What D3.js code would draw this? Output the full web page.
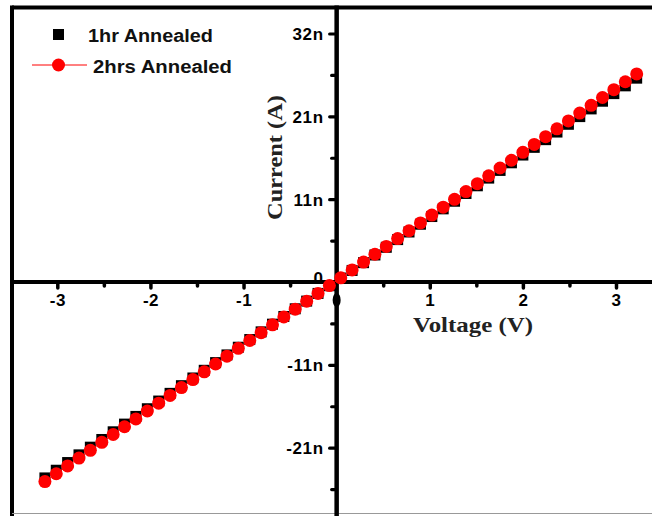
<!DOCTYPE html>
<html><head><meta charset="utf-8">
<script src="https://cdn.jsdelivr.net/npm/d3@7"></script>
<style>body{margin:0;background:#fff;overflow:hidden}</style>
</head><body>
<svg id="chart" width="652" height="516"></svg>
<script>
const voltage = [-3.133,-3.011,-2.889,-2.767,-2.645,-2.522,-2.400,-2.278,-2.156,-2.033,-1.911,-1.789,-1.667,-1.544,-1.422,-1.300,-1.178,-1.056,-0.933,-0.811,-0.689,-0.567,-0.445,-0.322,-0.200,-0.078,0.044,0.166,0.289,0.411,0.533,0.655,0.777,0.900,1.022,1.144,1.266,1.389,1.511,1.633,1.755,1.877,2.000,2.122,2.244,2.366,2.489,2.611,2.733,2.855,2.977,3.100,3.222];
const current1hr = [-25.23,-24.24,-23.25,-22.26,-21.27,-20.28,-19.29,-18.30,-17.31,-16.32,-15.33,-14.34,-13.35,-12.36,-11.37,-10.38,-9.39,-8.40,-7.41,-6.42,-5.43,-4.44,-3.45,-2.46,-1.47,-0.48,0.51,1.49,2.49,3.48,4.47,5.46,6.44,7.44,8.43,9.42,10.40,11.40,12.39,13.38,14.37,15.35,16.35,17.34,18.33,19.31,20.31,21.30,22.29,23.28,24.26,25.26,26.25];
const current2hrs = [-25.70,-24.69,-23.68,-22.68,-21.67,-20.65,-19.64,-18.64,-17.63,-16.61,-15.60,-14.60,-13.59,-12.57,-11.57,-10.56,-9.55,-8.54,-7.53,-6.52,-5.51,-4.50,-3.50,-2.48,-1.47,-0.46,0.54,1.55,2.57,3.57,4.58,5.59,6.60,7.61,8.62,9.63,10.64,11.65,12.66,13.67,14.68,15.68,16.70,17.71,18.72,19.72,20.74,21.75,22.75,23.76,24.77,25.79,26.79];
const seriesNames = ["1hr Annealed", "2hrs Annealed"];
const xTickValues = [-3, -2, -1, 1, 2, 3];
const xTickLabels = ["-3", "-2", "-1", "1", "2", "3"];
const xMinorTicks = [-2.5, -1.5, -0.5, 0.5, 1.5, 2.5];
const yTickValues = [-21.33, -10.67, 0, 10.67, 21.33, 32];
const yTickLabels = ["-21n", "-11n", "0", "11n", "21n", "32n"];
const yMinorTicks = [-26.67, -16, -5.33, 5.33, 16, 26.67];
const xTitle = "Voltage (V)";
const yTitle = "Current (A)";

const svg = d3.select("#chart");
const x = d3.scaleLinear().domain([-3, 3]).range([57.3, 616]);
const y = d3.scaleLinear().domain([0, 32]).range([282, 33.5]);
const x0 = x(0), y0 = y(0);
const sans = "'Liberation Sans', Arial, sans-serif";
const serif = "'Liberation Serif', 'Times New Roman', serif";

svg.append("rect").attr("width", 652).attr("height", 516).attr("fill", "#fff");

// Y axis ticks and labels
const yAxis = d3.axisLeft(y).tickValues(yTickValues).tickSize(6).tickPadding(5)
  .tickFormat((d, i) => yTickLabels[i]);
const gy = svg.append("g").attr("transform", `translate(${x0 - 1},0)`).call(yAxis);
gy.select(".domain").remove();
gy.selectAll(".tick line").attr("stroke", "#000").attr("stroke-width", 3.2).attr("stroke-linecap", "round");
gy.selectAll(".tick text").attr("font-family", sans).attr("font-weight", "bold")
  .attr("font-size", 17).attr("letter-spacing", 0.6).attr("fill", "#000")
  .attr("dy", (d) => d === 0 ? "0.1em" : "0.36em").attr("dx", -1);
const yMinor = d3.axisLeft(y).tickValues(yMinorTicks).tickSize(4).tickFormat("");
const gym = svg.append("g").attr("transform", `translate(${x0 - 1},0)`).call(yMinor);
gym.select(".domain").remove();
gym.selectAll(".tick line").attr("stroke", "#000").attr("stroke-width", 3.2).attr("stroke-linecap", "round");

// X axis ticks and labels
const xAxis = d3.axisBottom(x).tickValues(xTickValues).tickSize(5).tickPadding(6)
  .tickFormat((d, i) => xTickLabels[i]);
const gx = svg.append("g").attr("transform", `translate(0,${y0 + 1})`).call(xAxis);
gx.select(".domain").remove();
gx.selectAll(".tick line").attr("stroke", "#000").attr("stroke-width", 3.5).attr("stroke-linecap", "round");
gx.selectAll(".tick text").attr("font-family", sans).attr("font-weight", "bold")
  .attr("font-size", 17).attr("letter-spacing", 0.4).attr("fill", "#000");
const xMinor = d3.axisBottom(x).tickValues(xMinorTicks).tickSize(3).tickFormat("");
const gxm = svg.append("g").attr("transform", `translate(0,${y0 + 1})`).call(xMinor);
gxm.select(".domain").remove();
gxm.selectAll(".tick line").attr("stroke", "#000").attr("stroke-width", 3.5).attr("stroke-linecap", "round");

// small blob below origin
svg.append("ellipse").attr("cx", x0).attr("cy", y0 + 18).attr("rx", 4).attr("ry", 7).attr("fill", "#000");

// frame
svg.append("line").attr("x1", 12).attr("x2", 652).attr("y1", 7.5).attr("y2", 7.5).attr("stroke", "#000").attr("stroke-width", 4);
svg.append("line").attr("x1", 12).attr("x2", 12).attr("y1", 5.5).attr("y2", 516).attr("stroke", "#000").attr("stroke-width", 4);
svg.append("line").attr("x1", 12).attr("x2", 652).attr("y1", 513.5).attr("y2", 513.5).attr("stroke", "#999").attr("stroke-width", 1);

// zero axes
svg.append("line").attr("x1", 12).attr("x2", 652).attr("y1", y0).attr("y2", y0).attr("stroke", "#000").attr("stroke-width", 4);
svg.append("line").attr("x1", x0).attr("x2", x0).attr("y1", 5.5).attr("y2", 516).attr("stroke", "#000").attr("stroke-width", 4.5);

// axis titles
svg.append("text").attr("x", 413).attr("y", 332).attr("font-family", serif).attr("font-weight", "bold")
  .attr("font-size", 22).attr("fill", "#222").attr("textLength", 120).attr("lengthAdjust", "spacingAndGlyphs").text(xTitle);
svg.append("text").attr("transform", "translate(282,157.5) rotate(-90)").attr("text-anchor", "middle")
  .attr("font-family", serif).attr("font-weight", "bold").attr("font-size", 22).attr("fill", "#222")
  .attr("textLength", 125).attr("lengthAdjust", "spacingAndGlyphs").text(yTitle);

// data
const d1 = voltage.map((v, i) => [v, current1hr[i]]);
const d2 = voltage.map((v, i) => [v, current2hrs[i]]);
const sq = 11;
svg.append("g").selectAll("rect").data(d1).join("rect")
  .attr("x", d => x(d[0]) - sq / 2).attr("y", d => y(d[1]) - sq / 2)
  .attr("width", sq).attr("height", sq).attr("fill", "#000");
svg.append("path").datum(d2).attr("fill", "none").attr("stroke", "red").attr("stroke-width", 1)
  .attr("d", d3.line().x(d => x(d[0])).y(d => y(d[1])));
svg.append("g").selectAll("circle").data(d2).join("circle")
  .attr("cx", d => x(d[0])).attr("cy", d => y(d[1])).attr("r", 6.5).attr("fill", "#ff0000");

// legend
svg.append("rect").attr("x", 53).attr("y", 29).attr("width", sq).attr("height", sq).attr("fill", "#000");
svg.append("text").attr("x", 88).attr("y", 41.7).attr("font-family", sans).attr("font-weight", "bold")
  .attr("font-size", 18).attr("fill", "#111").attr("textLength", 125).attr("lengthAdjust", "spacingAndGlyphs").text(seriesNames[0]);
svg.append("line").attr("x1", 32).attr("x2", 87).attr("y1", 65).attr("y2", 65).attr("stroke", "red").attr("stroke-width", 1);
svg.append("circle").attr("cx", 58.5).attr("cy", 65).attr("r", 6.5).attr("fill", "#ff0000");
svg.append("text").attr("x", 93).attr("y", 72.7).attr("font-family", sans).attr("font-weight", "bold")
  .attr("font-size", 18).attr("fill", "#111").attr("textLength", 139).attr("lengthAdjust", "spacingAndGlyphs").text(seriesNames[1]);
</script>
</body></html>
